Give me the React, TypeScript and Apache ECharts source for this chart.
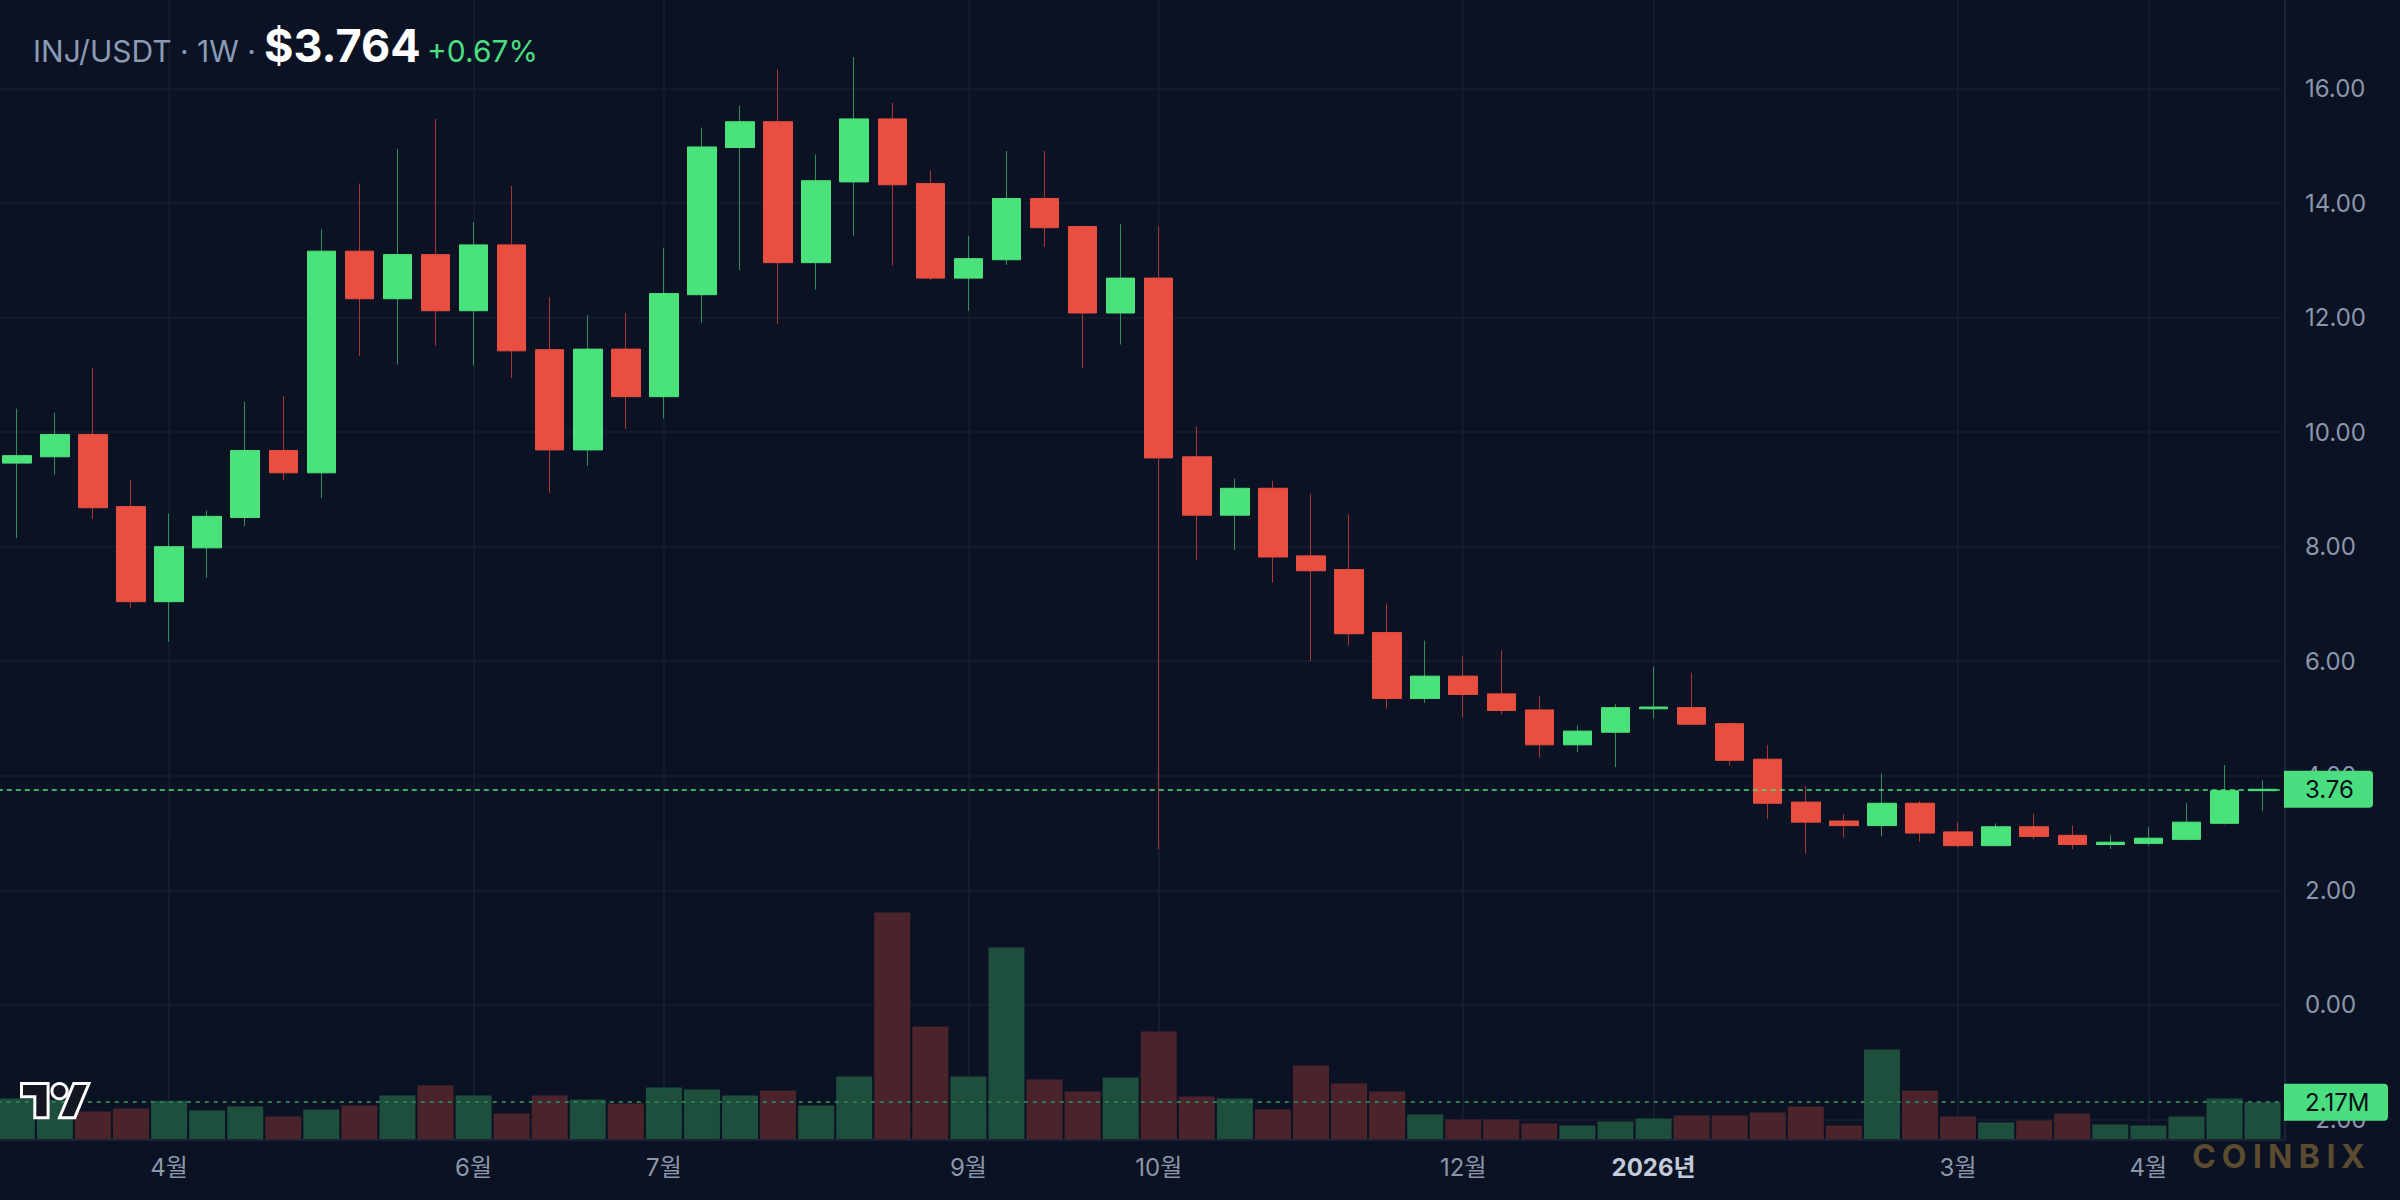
import React, { useEffect, useRef } from 'react';
import * as echarts from 'echarts';

// ---------- DATA ----------
const dates = [
  '2025-03-10', '2025-03-17', '2025-03-24', '2025-03-31', '2025-04-07', '2025-04-14', '2025-04-21', '2025-04-28',
  '2025-05-05', '2025-05-12', '2025-05-19', '2025-05-26', '2025-06-02', '2025-06-09', '2025-06-16', '2025-06-23',
  '2025-06-30', '2025-07-07', '2025-07-14', '2025-07-21', '2025-07-28', '2025-08-04', '2025-08-11', '2025-08-18',
  '2025-08-25', '2025-09-01', '2025-09-08', '2025-09-15', '2025-09-22', '2025-09-29', '2025-10-06', '2025-10-13',
  '2025-10-20', '2025-10-27', '2025-11-03', '2025-11-10', '2025-11-17', '2025-11-24', '2025-12-01', '2025-12-08',
  '2025-12-15', '2025-12-22', '2025-12-29', '2026-01-05', '2026-01-12', '2026-01-19', '2026-01-26', '2026-02-02',
  '2026-02-09', '2026-02-16', '2026-02-23', '2026-03-02', '2026-03-09', '2026-03-16', '2026-03-23', '2026-03-30',
  '2026-04-06', '2026-04-13', '2026-04-20', '2026-04-27',
];

const opens = [
  9.46, 9.57, 9.96, 8.70, 7.04, 7.98, 8.51, 9.68, 9.29, 13.16,
  12.33, 13.10, 12.12, 13.27, 11.44, 9.69, 11.45, 10.62, 12.40, 14.97,
  15.42, 12.96, 14.37, 15.47, 14.34, 12.69, 13.01, 14.08, 13.59, 12.08,
  12.69, 9.57, 8.55, 9.02, 7.84, 7.60, 6.50, 5.35, 5.74, 5.43,
  5.15, 4.54, 4.76, 5.17, 5.19, 4.91, 4.29, 3.54, 3.21, 3.13,
  3.52, 3.02, 2.78, 3.11, 2.96, 2.80, 2.82, 2.89, 3.17, 3.74,
];
const highs = [
  10.41, 10.34, 11.12, 9.17, 8.58, 8.63, 10.53, 10.63, 13.55, 14.34,
  14.95, 15.47, 13.67, 14.30, 12.36, 12.04, 12.08, 13.22, 15.32, 15.70,
  16.34, 14.85, 16.55, 15.75, 14.57, 13.43, 14.91, 14.91, 13.61, 13.63,
  13.59, 10.10, 9.19, 9.15, 8.92, 8.56, 7.01, 6.36, 6.10, 6.19,
  5.39, 4.88, 5.25, 5.90, 5.80, 4.93, 4.54, 3.82, 3.33, 4.04,
  3.56, 3.19, 3.17, 3.34, 3.13, 2.97, 3.10, 3.52, 4.19, 3.92,
];
const lows = [
  8.15, 9.26, 8.49, 6.92, 6.34, 7.46, 8.36, 9.16, 8.85, 11.33,
  11.18, 11.51, 11.16, 10.95, 8.94, 9.41, 10.06, 10.24, 11.91, 12.83,
  11.89, 12.49, 13.43, 12.91, 12.65, 12.12, 12.92, 13.24, 11.12, 11.53,
  2.72, 7.76, 7.94, 7.37, 6.00, 6.27, 5.17, 5.27, 5.02, 5.07,
  4.32, 4.41, 4.15, 5.00, 4.89, 4.18, 3.24, 2.64, 2.92, 2.94,
  2.85, 2.75, 2.77, 2.89, 2.72, 2.72, 2.78, 2.87, 3.15, 3.38,
];
const closes = [
  9.59, 9.96, 8.68, 7.04, 8.00, 8.53, 9.68, 9.29, 13.16, 12.33,
  13.10, 12.12, 13.27, 11.42, 9.69, 11.45, 10.62, 12.42, 14.98, 15.42,
  12.96, 14.39, 15.47, 14.32, 12.69, 13.03, 14.08, 13.57, 12.08, 12.69,
  9.55, 8.55, 9.02, 7.82, 7.58, 6.48, 5.35, 5.74, 5.42, 5.14,
  4.54, 4.78, 5.19, 5.20, 4.90, 4.27, 3.52, 3.19, 3.13, 3.52,
  3.00, 2.78, 3.11, 2.94, 2.80, 2.84, 2.91, 3.19, 3.739, 3.764,
];
// volume in millions
const volumes = [
  2.38, 2.30, 1.63, 1.80, 2.25, 1.69, 1.92, 1.34, 1.74, 1.98,
  2.56, 3.14, 2.56, 1.51, 2.56, 2.33, 2.09, 3.02, 2.91, 2.56,
  2.85, 1.98, 3.66, 13.20, 6.57, 3.66, 11.16, 3.49, 2.79, 3.60,
  6.28, 2.50, 2.38, 1.74, 4.30, 3.26, 2.79, 1.45, 1.16, 1.16,
  0.93, 0.81, 1.05, 1.22, 1.40, 1.40, 1.57, 1.92, 0.81, 5.23,
  2.85, 1.34, 0.99, 1.10, 1.51, 0.87, 0.81, 1.34, 2.38, 2.17,
];

const tickIndices = [4, 12, 17, 25, 30, 38, 43, 51, 56];
const tickLabels = ['4월', '6월', '7월', '9월', '10월', '12월', '2026년', '3월', '4월'];

const symbolText = 'INJ/USDT · 1W ·';
const priceText = '$3.764';
const changeText = '+0.67%';
const watermark = ['C', 'O', 'I', 'N', 'B', 'I', 'X'];

// ---------- STYLE ----------
const FONT = "Inter, 'Noto Sans CJK KR', 'Noto Sans', sans-serif";
const BG = '#0b1224';
const GRID = '#161e2f';
const AXIS_TXT = '#8b96aa';
const UP = '#4ae27a';
const DOWN = '#e84f40';
const WICK_UP = '#2f8f58';
const WICK_DOWN = '#a8352f';
const VOL_UP = '#1e4e3c';
const VOL_DOWN = '#4b242b';

const TV_PATH = 'M14 22H7V11H0V4h14v18zM28 22h-8l7.5-18h8L28 22z';
let shapesRegistered = false;
function ensureShapes() {
  if (shapesRegistered) return;
  echarts.graphic.registerShape('tvlogo', echarts.graphic.extendPath(TV_PATH, {}) as any);
  shapesRegistered = true;
}

const isTick = (idx: number) => tickIndices.indexOf(idx) >= 0;

function buildOption(): any {
  const wickData = opens.map((o, i) => [o, closes[i], lows[i], highs[i]]);
  const bodyData = opens.map((o, i) => [o, closes[i], Math.min(o, closes[i]), Math.max(o, closes[i])]);
  const last = closes.length - 1;

  const gridLeft = -2.2;
  const gridRight = 118.4;

  return {
    animation: false,
    backgroundColor: BG,
    grid: [
      { left: gridLeft, right: gridRight, top: -26, bottom: 80.6, outerBoundsMode: 'none', containLabel: false },
      { left: gridLeft, right: gridRight, top: 839.5, bottom: 60.5, outerBoundsMode: 'none', containLabel: false },
    ],
    xAxis: [
      {
        type: 'category',
        gridIndex: 0,
        data: dates,
        boundaryGap: true,
        axisLine: { show: false },
        axisTick: { show: false, alignWithLabel: true },
        axisLabel: { show: false },
        splitLine: {
          show: true,
          alignWithLabel: true,
          interval: (idx: number) => isTick(idx),
          lineStyle: { color: GRID, width: 1.5 },
        },
      },
      {
        type: 'category',
        gridIndex: 1,
        data: dates,
        boundaryGap: true,
        axisLine: { show: false },
        axisTick: { show: false, alignWithLabel: true },
        axisLabel: {
          show: true,
          interval: (idx: number) => isTick(idx),
          margin: 16,
          color: AXIS_TXT,
          fontSize: 24,
          fontFamily: FONT,
          formatter: (_v: string, idx: number) => {
            const k = tickIndices.indexOf(idx);
            const t = k >= 0 ? tickLabels[k] : '';
            return t.indexOf('년') >= 0 ? `{y|${t}}` : t;
          },
          rich: {
            y: { fontSize: 24, fontWeight: 'bold', color: '#c3cbd9', fontFamily: FONT },
          },
        },
        splitLine: {
          show: true,
          alignWithLabel: true,
          interval: (idx: number) => isTick(idx),
          lineStyle: { color: GRID, width: 1.5 },
        },
      },
    ],
    yAxis: [
      {
        type: 'value',
        gridIndex: 0,
        position: 'right',
        min: -2,
        max: 18,
        interval: 2,
        axisLine: { show: false },
        axisTick: { show: false },
        axisLabel: {
          margin: 23.4,
          color: AXIS_TXT,
          fontSize: 24,
          fontFamily: FONT,
          showMaxLabel: false,
          formatter: (v: number) => v.toFixed(2),
        },
        splitLine: { show: true, lineStyle: { color: GRID, width: 1.5 } },
      },
      {
        type: 'value',
        gridIndex: 1,
        min: 0,
        max: 17.44,
        show: false,
        splitLine: { show: false },
      },
    ],
    series: [
      {
        name: 'Volume',
        type: 'bar',
        xAxisIndex: 1,
        yAxisIndex: 1,
        barWidth: 36,
        data: volumes,
        itemStyle: {
          color: (p: any) => (closes[p.dataIndex] >= opens[p.dataIndex] ? VOL_UP : VOL_DOWN),
        },
        markLine: {
          silent: true,
          symbol: ['none', 'none'],
          label: { show: false },
          lineStyle: { color: '#2e7a55', type: [4, 5], width: 2 },
          data: [{ yAxis: volumes[last] }],
        },
      },
      {
        name: 'Wick',
        type: 'candlestick',
        xAxisIndex: 0,
        yAxisIndex: 0,
        barWidth: 1,
        data: wickData,
        itemStyle: {
          color: WICK_UP,
          color0: WICK_DOWN,
          borderColor: WICK_UP,
          borderColor0: WICK_DOWN,
          borderWidth: 1,
        },
      },
      {
        name: 'INJ/USDT',
        type: 'candlestick',
        xAxisIndex: 0,
        yAxisIndex: 0,
        barWidth: 29,
        data: bodyData,
        itemStyle: {
          color: UP,
          color0: DOWN,
          borderColor: UP,
          borderColor0: DOWN,
          borderWidth: 1,
        },
        markLine: {
          silent: true,
          symbol: ['none', 'none'],
          label: { show: false },
          lineStyle: { color: UP, type: [5, 4], width: 1.5 },
          data: [{ yAxis: closes[last] }],
        },
      },
    ],
  };
}

function buildGraphic(yPrice: number, yVol: number): any[] {
  const last = closes.length - 1;
  const logoX = 21.5;
  const logoY = 1075.9;
  const logoS = 1.9;
  const wmX = [2204, 2234.2, 2257.4, 2280.1, 2309.3, 2331, 2352.7];
  const els: any[] = [
    // axis lines
    { type: 'line', z: 50, shape: { x1: 0, y1: 1140, x2: 2285, y2: 1140 }, style: { stroke: '#1c2334', lineWidth: 2 } },
    { type: 'line', z: 50, shape: { x1: 2285, y1: 0, x2: 2285, y2: 1140 }, style: { stroke: '#1c2334', lineWidth: 2 } },
    // title
    {
      type: 'text', z: 60, x: 33, y: 50.5,
      style: { text: symbolText, fill: '#8b9bb4', font: `30px ${FONT}`, textAlign: 'left', textVerticalAlign: 'middle', verticalAlign: 'middle' },
    },
    {
      type: 'text', z: 60, x: 264, y: 45.5,
      style: { text: priceText, fill: '#ffffff', font: `bold 45px ${FONT}`, textAlign: 'left', textVerticalAlign: 'middle', verticalAlign: 'middle' },
    },
    {
      type: 'text', z: 60, x: 427, y: 51.3,
      style: { text: changeText, fill: '#4ade80', font: `30px ${FONT}`, textAlign: 'left', textVerticalAlign: 'middle', verticalAlign: 'middle' },
    },
    // logo
    {
      type: 'tvlogo', z: 60, x: logoX, y: logoY, scaleX: logoS, scaleY: logoS,
      style: { fill: '#131722', stroke: '#ffffff', lineWidth: 3, strokeNoScale: true },
    },
    {
      type: 'circle', z: 60,
      shape: { cx: logoX + 20 * logoS, cy: logoY + 8 * logoS, r: 4 * logoS },
      style: { fill: '#131722', stroke: '#ffffff', lineWidth: 3 },
    },
    // price badge
    {
      type: 'rect', z: 70,
      shape: { x: 2284, y: yPrice - 18.5, width: 89, height: 37, r: [0, 4, 4, 0] },
      style: { fill: '#4ade80' },
    },
    {
      type: 'text', z: 71, x: 2305, y: yPrice,
      style: { text: closes[last].toFixed(2), fill: '#0b0f17', font: `24px ${FONT}`, textAlign: 'left', textVerticalAlign: 'middle', verticalAlign: 'middle' },
    },
    // volume badge
    {
      type: 'rect', z: 70,
      shape: { x: 2284, y: yVol - 18.5, width: 104, height: 37, r: [0, 4, 4, 0] },
      style: { fill: '#4ade80' },
    },
    {
      type: 'text', z: 71, x: 2305, y: yVol,
      style: { text: volumes[last].toFixed(2) + 'M', fill: '#0b0f17', font: `24px ${FONT}`, textAlign: 'left', textVerticalAlign: 'middle', verticalAlign: 'middle' },
    },
  ];
  watermark.forEach((ch, i) => {
    els.push({
      type: 'text', z: 60, x: wmX[i], y: 1156,
      style: { text: ch, fill: '#5b4c30', font: `bold 32px ${FONT}`, textAlign: 'center', textVerticalAlign: 'middle', verticalAlign: 'middle', align: 'center' },
    });
  });
  return els;
}

export default function App() {
  const ref = useRef<HTMLDivElement | null>(null);
  useEffect(() => {
    if (!ref.current) return;
    ensureShapes();
    const chart = echarts.init(ref.current, null, { renderer: 'svg' });
    chart.setOption(buildOption());
    const last = closes.length - 1;
    const yP = chart.convertToPixel({ yAxisIndex: 0 } as any, closes[last]) as unknown as number;
    const yV = chart.convertToPixel({ yAxisIndex: 1 } as any, volumes[last]) as unknown as number;
    chart.setOption({ graphic: buildGraphic(yP, yV) });
    return () => chart.dispose();
  }, []);
  return (
    <div
      ref={ref}
      style={{ position: 'fixed', left: 0, top: 0, width: 2400, height: 1200, background: BG }}
    />
  );
}
